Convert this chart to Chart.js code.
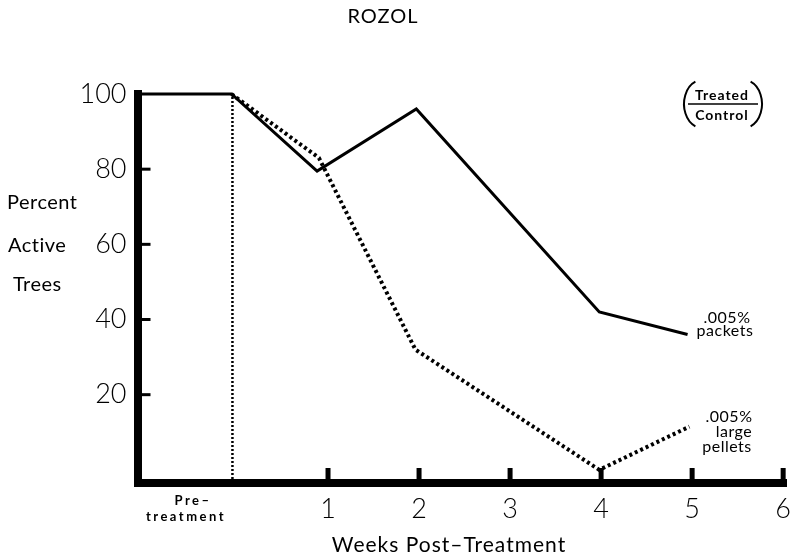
<!DOCTYPE html>
<html>
<head>
<meta charset="utf-8">
<script src="https://cdn.jsdelivr.net/npm/chart.js@4.4.0/dist/chart.umd.min.js"></script>
<style>
  html, body { margin: 0; padding: 0; background: #fff; }
  #wrap { width: 793px; height: 555px; position: relative; }
</style>
</head>
<body>
<div id="wrap"><canvas id="rozolChart"></canvas></div>
<script>
// weeks post-treatment (negative = pre-treatment period)
const packetWeeks = [-1.05, -0.06, 0.88, 1.97, 3.98, 4.95];
const packetPct = [100, 100, 79.5, 96, 42, 36];
const pelletWeeks = [-0.06, 0.9, 1.96, 3.98, 4.97];
const pelletPct = [100, 83, 32, 0, 11.5];
const treatWeek = -0.05;
const treatRange = [-3.5, 100];
const weekTicks = [1, 2, 3, 4, 5, 6];
const pctTicks = [20, 40, 60, 80, 100];

const toPoints = (xs, ys) => xs.map((x, i) => ({ x: x, y: ys[i] }));

const labelFont = "Lato, 'Noto Sans', sans-serif";

const decorations = {
    id: 'decorations',
    afterDraw(chart) {
        const ctx = chart.ctx;
        const xs = chart.scales.x;
        const ys = chart.scales.y;
        const area = chart.chartArea;
        ctx.save();
        ctx.fillStyle = '#000';
        ctx.strokeStyle = '#000';

        // inward ticks on the y axis
        ctx.lineWidth = 3;
        pctTicks.slice(0, 4).forEach(v => {
            const py = ys.getPixelForValue(v);
            ctx.beginPath();
            ctx.moveTo(area.left + 3, py);
            ctx.lineTo(area.left + 13, py);
            ctx.stroke();
        });

        // upward ticks on the x axis
        ctx.lineWidth = 5;
        weekTicks.forEach(w => {
            const px = xs.getPixelForValue(w);
            ctx.beginPath();
            ctx.moveTo(px, area.bottom);
            ctx.lineTo(px, area.bottom - 15);
            ctx.stroke();
        });

        ctx.textAlign = 'center';
        ctx.textBaseline = 'alphabetic';

        // title
        ctx.font = "20px " + labelFont;
        ctx.letterSpacing = '1px';
        ctx.fillText('ROZOL', 383, 23);

        // pre-treatment label
        ctx.font = "bold 13px " + labelFont;
        ctx.letterSpacing = '2.5px';
        ctx.fillText('Pre\u2013', 193, 505);
        ctx.fillText('treatment', 186, 521);

        // x title
        ctx.font = "21px " + labelFont;
        ctx.letterSpacing = '1px';
        ctx.fillText('Weeks Post\u2013Treatment', 449, 552);

        // y title
        ctx.textAlign = 'left';
        ctx.font = "20px " + labelFont;
        ctx.letterSpacing = '0.5px';
        ctx.fillText('Percent', 7, 209);
        ctx.fillText('Active', 8, 252);
        ctx.fillText('Trees', 13, 291);

        // series notes
        ctx.textAlign = 'center';
        ctx.font = "16px " + labelFont;
        ctx.letterSpacing = '0.5px';
        ctx.fillText('.005%', 727, 323);
        ctx.fillText('packets', 725, 336);
        ctx.fillText('.005%', 729, 422);
        ctx.fillText('large', 734, 437);
        ctx.fillText('pellets', 727, 452);

        // (Treated / Control)
        ctx.font = "bold 14px " + labelFont;
        ctx.letterSpacing = '1px';
        ctx.fillText('Treated', 722, 100);
        ctx.fillText('Control', 722, 120);
        ctx.lineWidth = 1.5;
        ctx.beginPath();
        ctx.moveTo(688, 104);
        ctx.lineTo(758, 104);
        ctx.stroke();
        ctx.lineWidth = 2;
        ctx.beginPath();
        ctx.ellipse(702, 104, 18, 24, 0, Math.PI * 0.62, Math.PI * 1.38);
        ctx.stroke();
        ctx.beginPath();
        ctx.ellipse(744, 104, 18, 24, 0, -Math.PI * 0.38, Math.PI * 0.38);
        ctx.stroke();

        ctx.restore();
    }
};

new Chart(document.getElementById('rozolChart'), {
    type: 'line',
    data: {
        datasets: [
            {
                label: '.005% packets',
                data: toPoints(packetWeeks, packetPct),
                borderColor: '#000',
                borderWidth: 3,
                pointRadius: 0,
                tension: 0,
                clip: false
            },
            {
                label: '.005% large pellets',
                data: toPoints(pelletWeeks, pelletPct),
                borderColor: '#000',
                borderWidth: 4,
                borderDash: [3, 3],
                pointRadius: 0,
                tension: 0,
                clip: false
            },
            {
                label: 'treatment',
                data: toPoints([treatWeek, treatWeek], treatRange),
                borderColor: '#000',
                borderWidth: 2.5,
                borderDash: [2, 2],
                pointRadius: 0,
                clip: false
            }
        ]
    },
    options: {
        responsive: true,
        maintainAspectRatio: false,
        animation: false,
        layout: { padding: { top: 94, right: 3, left: 0, bottom: 0 } },
        plugins: {
            legend: { display: false },
            tooltip: { enabled: false }
        },
        scales: {
            x: {
                type: 'linear',
                min: -1.093,
                max: 6.04,
                afterBuildTicks: s => { s.ticks = weekTicks.map(v => ({ value: v })); },
                afterFit: s => { s.height = 72; },
                grid: { display: false },
                border: { display: true, width: 8, color: '#000' },
                ticks: {
                    color: '#000',
                    padding: 2,
                    font: { family: labelFont, size: 27, weight: 300 }
                }
            },
            y: {
                min: -3.5,
                max: 100,
                afterBuildTicks: s => { s.ticks = pctTicks.map(v => ({ value: v })); },
                afterFit: s => { s.width = 137.5; },
                grid: { display: false },
                border: { display: true, width: 8, color: '#000' },
                ticks: {
                    color: '#000',
                    padding: 3,
                    font: { family: labelFont, size: 27, weight: 300 }
                }
            }
        }
    },
    plugins: [decorations]
});
</script>
</body>
</html>
